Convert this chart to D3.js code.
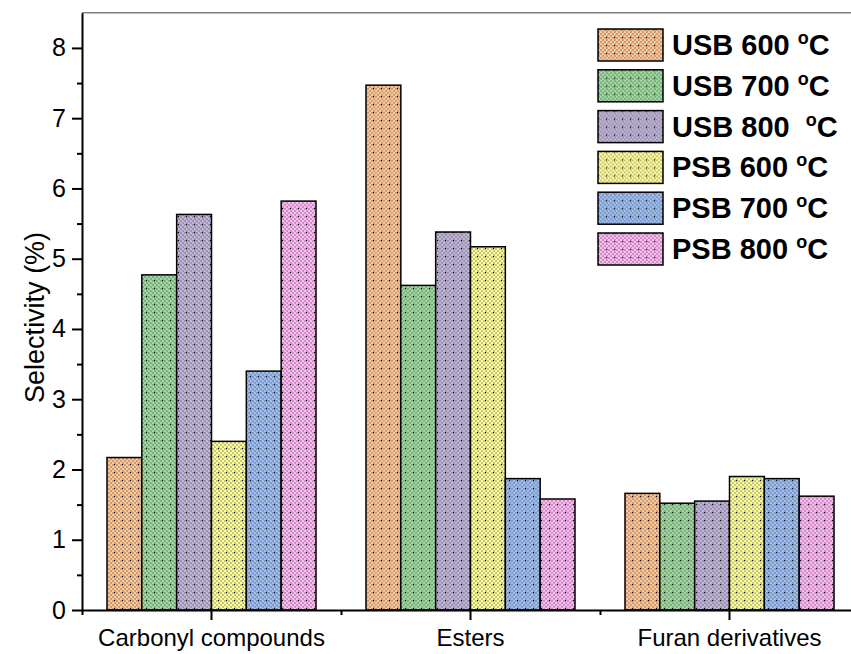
<!DOCTYPE html>
<html>
<head>
<meta charset="utf-8">
<script src="https://cdn.jsdelivr.net/npm/d3@7/dist/d3.min.js"></script>
<style>
  html, body { margin: 0; padding: 0; background: #fff; }
  svg { display: block; }
  text { font-family: "Liberation Sans", Arial, sans-serif; fill: #000; }
</style>
</head>
<body>
<svg id="chart" width="851" height="654"></svg>
<script>
// Selectivity of product groups for each biochar / temperature
const categories = ["Carbonyl compounds", "Esters", "Furan derivatives"];
const seriesNames = ["USB 600 ", "USB 700 ", "USB 800  ", "PSB 600 ", "PSB 700 ", "PSB 800 "];
const seriesColors = ["#FFC593", "#9EDA9E", "#C2B5DC", "#FFFF99", "#9DBEF5", "#FFB7F5"];
const usb600 = [2.17, 7.47, 1.66];
const usb700 = [4.77, 4.62, 1.52];
const usb800 = [5.63, 5.38, 1.55];
const psb600 = [2.40, 5.17, 1.90];
const psb700 = [3.40, 1.87, 1.87];
const psb800 = [5.82, 1.58, 1.62];
const seriesValues = [usb600, usb700, usb800, psb600, psb700, psb800];
const yMajorTicks = [0, 1, 2, 3, 4, 5, 6, 7, 8];
const yMinorTicks = [0.5, 1.5, 2.5, 3.5, 4.5, 5.5, 6.5, 7.5];
const yMax = 8.5;

const svg = d3.select("#chart");
const plot = { left: 82, right: 859, top: 12.8, bottom: 610 };

const x = d3.scaleBand().domain(categories).range([plot.left, plot.right]).padding(0);
const groupWidth = x.bandwidth() * 0.807;
const xs = d3.scaleBand().domain(d3.range(seriesNames.length))
  .range([(x.bandwidth() - groupWidth) / 2, (x.bandwidth() + groupWidth) / 2]).padding(0);
const xBoundary = d3.scaleLinear().domain([0.5, categories.length + 0.5]).range([plot.left, plot.right]);
const y = d3.scaleLinear().domain([0, yMax]).range([plot.bottom, plot.top]);

// Hatched fills: base colour, fine grey checker, black dots
const defs = svg.append("defs");
seriesColors.forEach((c, i) => {
  const p = defs.append("pattern").attr("id", "hatch" + i)
    .attr("patternUnits", "userSpaceOnUse").attr("width", 8).attr("height", 8);
  p.append("rect").attr("width", 8).attr("height", 8).attr("fill", c);
  for (let a = 0; a < 4; a++) {
    for (let b = 0; b < 4; b++) {
      if ((a + b) % 2 === 1) {
        p.append("rect").attr("x", a * 2).attr("y", b * 2).attr("width", 2).attr("height", 2)
          .attr("fill", "rgba(70,70,70,0.30)");
      }
    }
  }
  p.append("rect").attr("x", 0).attr("y", 0).attr("width", 1.2).attr("height", 1.2).attr("fill", "#000");
});

// Top frame line
svg.append("line")
  .attr("x1", plot.left).attr("x2", plot.right)
  .attr("y1", y(yMax)).attr("y2", y(yMax))
  .attr("stroke", "#808080").attr("stroke-width", 1.5);

// Bars
const groups = svg.append("g").selectAll("g").data(categories).join("g")
  .attr("transform", d => `translate(${x(d)},0)`);
groups.selectAll("rect")
  .data((d, ci) => seriesValues.map((vals, si) => ({ si, v: vals[ci] })))
  .join("rect")
  .attr("x", d => xs(d.si))
  .attr("width", xs.bandwidth())
  .attr("y", d => y(d.v))
  .attr("height", d => y(0) - y(d.v))
  .attr("fill", d => `url(#hatch${d.si})`)
  .attr("stroke", "#000").attr("stroke-width", 1.5);

// Y axis
const yAxisG = svg.append("g").attr("transform", `translate(${plot.left},0)`);
yAxisG.call(d3.axisLeft(y).tickValues(yMajorTicks).tickSize(10).tickSizeOuter(0).tickPadding(6)
  .tickFormat(d3.format("d")));
yAxisG.append("g").call(d3.axisLeft(y).tickValues(yMinorTicks).tickSize(5).tickSizeOuter(0).tickFormat(""))
  .select(".domain").remove();
yAxisG.selectAll("text").style("font-size", "25px").style("font-family", "Liberation Sans, Arial, sans-serif");
yAxisG.selectAll("line, path").attr("stroke", "#000").attr("stroke-width", 2);

// X axis
const xAxisG = svg.append("g").attr("transform", `translate(0,${plot.bottom})`);
xAxisG.call(d3.axisBottom(x).tickSize(10).tickSizeOuter(0).tickPadding(9));
xAxisG.append("g").call(d3.axisBottom(xBoundary).tickValues([0.5, 1.5, 2.5]).tickSize(5).tickSizeOuter(0).tickFormat(""))
  .select(".domain").remove();
xAxisG.selectAll("text").style("font-size", "24px").style("font-family", "Liberation Sans, Arial, sans-serif");
xAxisG.selectAll("line, path").attr("stroke", "#000").attr("stroke-width", 2);

// Y title
svg.append("text")
  .attr("transform", `translate(44,${(plot.top + plot.bottom) / 2 + 6}) rotate(-90)`)
  .attr("text-anchor", "middle")
  .style("font-size", "27px")
  .text("Selectivity (%)");

// Legend
const legend = svg.append("g").attr("transform", "translate(598,29)");
const rowStep = 40.8;
const items = legend.selectAll("g").data(seriesNames).join("g")
  .attr("transform", (d, i) => `translate(0,${i * rowStep})`);
items.append("rect")
  .attr("width", 65).attr("height", 32)
  .attr("fill", (d, i) => `url(#hatch${i})`)
  .attr("stroke", "#000").attr("stroke-width", 1.5);
const lt = items.append("text")
  .attr("x", 74).attr("y", 26)
  .attr("xml:space", "preserve")
  .style("font-size", "29px").style("font-weight", "bold").style("white-space", "pre");
lt.append("tspan").text(d => d);
lt.append("tspan").attr("dy", -11).style("font-size", "18px").text("o");
lt.append("tspan").attr("dy", 11).text("C");
</script>
</body>
</html>
